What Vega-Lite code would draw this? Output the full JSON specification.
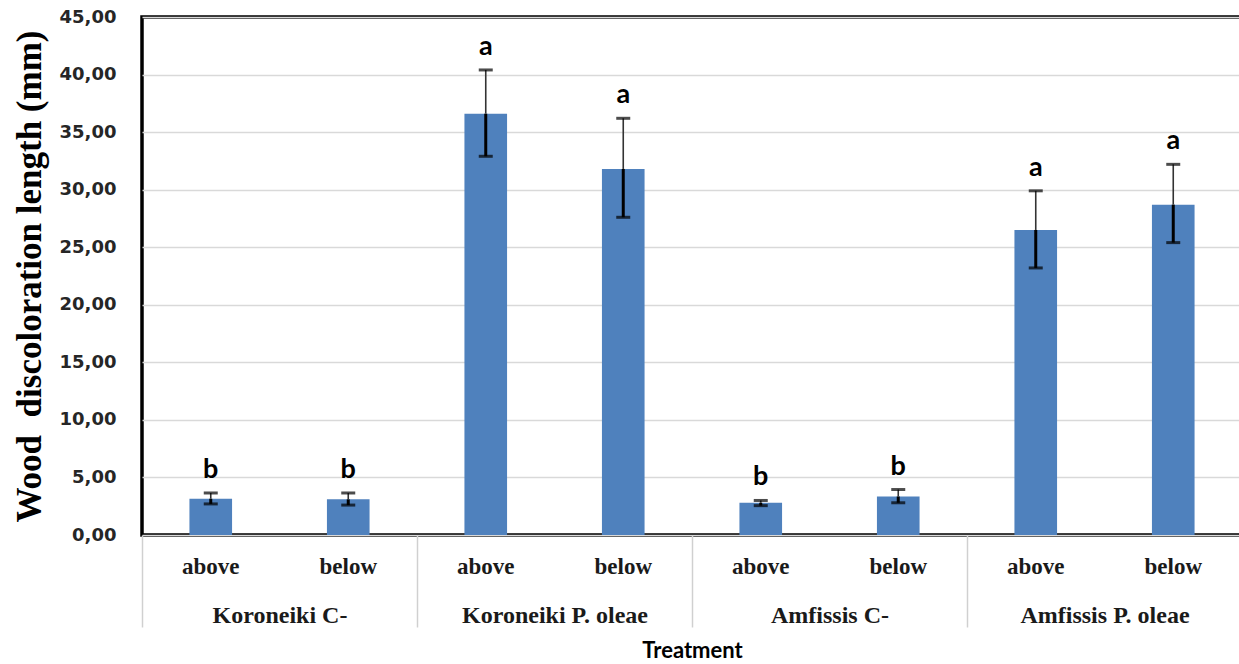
{
  "$schema": "https://vega.github.io/schema/vega-lite/v6.json",
  "width": 1100,
  "height": 518,
  "autosize": "none",
  "padding": {"left": 142, "top": 17, "right": 0, "bottom": 129},
  "background": "white",
  "config": {
    "view": {"stroke": "black", "strokeWidth": 3.5}
  },
  "data": {
    "values": [
      {"group": "Koroneiki C-", "pos": "above", "key": "Koroneiki C-|above", "mean": 3.15, "lo": 2.7, "hi": 3.65, "letter": "b"},
      {"group": "Koroneiki C-", "pos": "below", "key": "Koroneiki C-|below", "mean": 3.1, "lo": 2.6, "hi": 3.65, "letter": "b"},
      {"group": "Koroneiki P. oleae", "pos": "above", "key": "Koroneiki P. oleae|above", "mean": 36.6, "lo": 32.9, "hi": 40.4, "letter": "a"},
      {"group": "Koroneiki P. oleae", "pos": "below", "key": "Koroneiki P. oleae|below", "mean": 31.8, "lo": 27.6, "hi": 36.2, "letter": "a"},
      {"group": "Amfissis C-", "pos": "above", "key": "Amfissis C-|above", "mean": 2.8, "lo": 2.55, "hi": 3.0, "letter": "b"},
      {"group": "Amfissis C-", "pos": "below", "key": "Amfissis C-|below", "mean": 3.35, "lo": 2.8, "hi": 3.95, "letter": "b"},
      {"group": "Amfissis P. oleae", "pos": "above", "key": "Amfissis P. oleae|above", "mean": 26.5, "lo": 23.2, "hi": 29.9, "letter": "a"},
      {"group": "Amfissis P. oleae", "pos": "below", "key": "Amfissis P. oleae|below", "mean": 28.7, "lo": 25.4, "hi": 32.2, "letter": "a"}
    ]
  },
  "layer": [
    {
      "encoding": {
        "x": {
          "field": "key",
          "type": "nominal",
          "sort": null,
          "scale": {"paddingInner": 0, "paddingOuter": 0},
          "axis": {
            "orient": "bottom",
            "title": null,
            "labelExpr": "split(datum.value, '|')[1]",
            "labelAngle": 0,
            "labelFont": "Liberation Serif",
            "labelFontSize": 23,
            "labelFontWeight": "bold",
            "labelColor": "#1a1a1a",
            "ticks": false,
            "tickSize": 0,
            "domain": false,
            "labelPadding": 20,
            "grid": false
          }
        }
      },
      "layer": [
        {
          "mark": {"type": "bar", "color": "#4f81bd", "width": {"band": 0.31}},
          "encoding": {
            "y": {
              "field": "mean",
              "type": "quantitative",
              "scale": {"domain": [0, 45], "nice": false, "zero": true},
              "axis": {
                "values": [0, 5, 10, 15, 20, 25, 30, 35, 40, 45],
                "labelExpr": "replace(format(datum.value, '.2f'), '.', ',')",
                "labelFont": "DejaVu Sans",
                "labelFontSize": 18,
                "labelFontWeight": "bold",
                "labelColor": "#262626",
                "labelPadding": 26,
                "ticks": false,
                "domain": false,
                "grid": true,
                "gridColor": "#d9d9d9",
                "gridWidth": 1.5,
                "title": "Wood\u00a0 discoloration length (mm)",
                "titleFont": "Liberation Serif",
                "titleFontSize": 35,
                "titleFontWeight": "bold",
                "titleColor": "black",
                "titlePadding": 12
              }
            }
          }
        },
        {
          "mark": {"type": "rule", "color": "black", "strokeWidth": 3},
          "encoding": {
            "y": {"field": "lo", "type": "quantitative"},
            "y2": {"field": "mean"}
          }
        },
        {
          "mark": {"type": "rule", "color": "#333333", "strokeWidth": 1.6},
          "encoding": {
            "y": {"field": "mean", "type": "quantitative"},
            "y2": {"field": "hi"}
          }
        },
        {
          "mark": {"type": "tick", "color": "black", "thickness": 3, "size": 14},
          "encoding": {
            "y": {"field": "lo", "type": "quantitative"}
          }
        },
        {
          "mark": {"type": "tick", "color": "black", "thickness": 3, "size": 14},
          "encoding": {
            "y": {"field": "hi", "type": "quantitative"}
          }
        },
        {
          "mark": {"type": "text", "font": "Lato", "fontSize": 27, "fontWeight": "bold", "color": "black", "baseline": "alphabetic", "dy": -15},
          "encoding": {
            "y": {"field": "hi", "type": "quantitative"},
            "text": {"field": "letter"}
          }
        }
      ]
    },
    {
      "mark": {"type": "point", "opacity": 0},
      "encoding": {
        "x": {
          "field": "group",
          "type": "nominal",
          "sort": null,
          "scale": {"paddingInner": 0, "paddingOuter": 0},
          "axis": {
            "orient": "bottom",
            "title": "Treatment",
            "titleFont": "Lato",
            "titleFontSize": 22,
            "titleFontWeight": "bold",
            "titleColor": "black",
            "titlePadding": 13,
            "labelAngle": 0,
            "labelLimit": 400,
            "labelFont": "Liberation Serif",
            "labelFontSize": 24,
            "labelFontWeight": "bold",
            "labelColor": "#1a1a1a",
            "tickBand": "extent",
            "ticks": true,
            "tickSize": 92,
            "tickColor": "#d0d0d0",
            "tickWidth": 1.5,
            "labelPadding": -24,
            "domain": false,
            "grid": false
          }
        }
      }
    }
  ],
  "resolve": {"scale": {"x": "independent"}, "axis": {"x": "independent"}}
}
